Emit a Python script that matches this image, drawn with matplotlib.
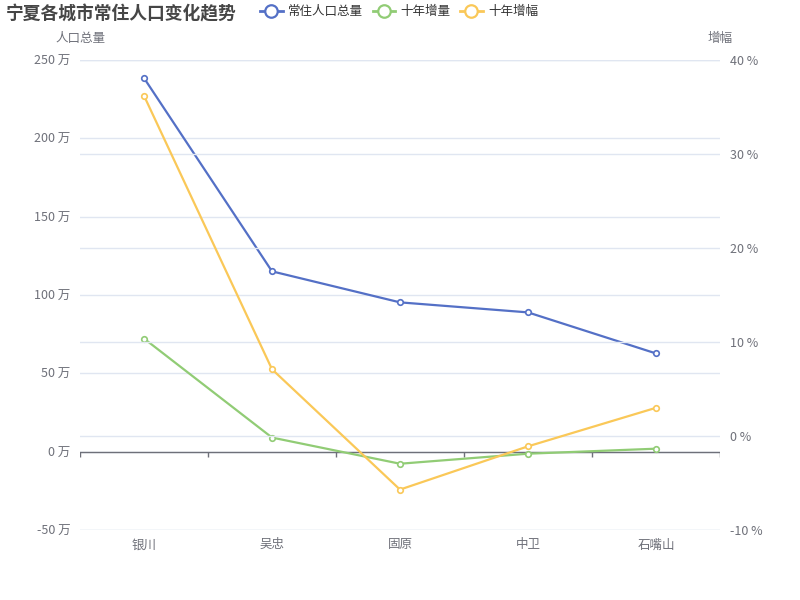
import numpy as np
import matplotlib
matplotlib.use("Agg")
import matplotlib.pyplot as plt
from matplotlib.lines import Line2D

plt.rcParams['font.family'] = ['Noto Sans CJK SC', 'DejaVu Sans']

# 数据
cities = ['银川', '吴忠', '固原', '中卫', '石嘴山']
total_pop = [238.5, 115.1, 95.3, 88.9, 62.7]      # 万
ten_year_inc = [72.2, 9.0, -7.7, -1.3, 1.9]       # 万
ten_year_rate = [36.2, 7.1, -5.7, -1.1, 3.0]      # %

left_ticks = [-50, 0, 50, 100, 150, 200, 250]
right_ticks = [-10, 0, 10, 20, 30, 40]

c_blue = '#5470c6'
c_green = '#91cc75'
c_yellow = '#fac858'
c_text = '#6e7079'
c_grid = '#e0e6f1'

fig = plt.figure(figsize=(8, 6), dpi=100)
ax = fig.add_axes([0.1, 1 - 530 / 600, 0.8, 470 / 600])
ax2 = ax.twinx()

x = np.arange(len(cities))

ax.set_xlim(-0.5, len(cities) - 0.5)
ax.set_ylim(-50, 250)
ax2.set_ylim(-10, 40)
ax.set_yticks(left_ticks)
ax.set_yticklabels([f'{v} 万' for v in left_ticks])
ax2.set_yticks(right_ticks)
ax2.set_yticklabels([f'{v} %' for v in right_ticks])

for a in (ax, ax2):
    for s in a.spines.values():
        s.set_visible(False)
    a.grid(axis='y', color=c_grid, linewidth=1)
    a.set_axisbelow(True)
    a.tick_params(axis='y', length=0, colors=c_text, labelsize=9, pad=7)
ax2.tick_params(axis='y', pad=7)

ax.set_xticks(x)
ax.set_xticklabels(cities)
ax.tick_params(axis='x', length=0, colors=c_text, labelsize=9, pad=6)

# 类目轴线在 0 处
ax.axhline(0, color=c_text, linewidth=1, zorder=2)
bounds = np.arange(len(cities) + 1) - 0.5
ax.vlines(bounds, 0, -3.2, color=c_text, linewidth=1, zorder=2)

mk = dict(marker='o', markersize=4, markerfacecolor='white', markeredgewidth=1.2)
ax.plot(x, total_pop, color=c_blue, linewidth=1.6, zorder=4, **mk)
ax.plot(x, ten_year_inc, color=c_green, linewidth=1.6, zorder=4, **mk)
ax2.plot(x, ten_year_rate, color=c_yellow, linewidth=1.6, zorder=4, **mk)

# 轴名
ax.text(0.0, 1.045, '人口总量', transform=ax.transAxes, ha='center', va='center',
        fontsize=9, color=c_text)
ax.text(1.0, 1.045, '增幅', transform=ax.transAxes, ha='center', va='center',
        fontsize=9, color=c_text)

# 标题
fig.text(6 / 800, 1 - 14 / 600, '宁夏各城市常住人口变化趋势', ha='left', va='center',
         fontsize=12.8, fontweight='bold', color='#464646')

# 图例
names = ['常住人口总量', '十年增量', '十年增幅']
colors = [c_blue, c_green, c_yellow]
handles = [Line2D([], [], color=c, linewidth=2, marker='o', markersize=9,
                  markerfacecolor='white', markeredgewidth=1.6, label=n)
           for n, c in zip(names, colors)]
fig.legend(handles=handles, loc='center left', bbox_to_anchor=(260 / 800, 1 - 12 / 600),
           ncol=3, frameon=False, fontsize=9, handlelength=1.8, handletextpad=0.45,
           columnspacing=0.75, labelcolor='#333333', borderaxespad=0, borderpad=0)

fig.savefig('out.png', dpi=100)
